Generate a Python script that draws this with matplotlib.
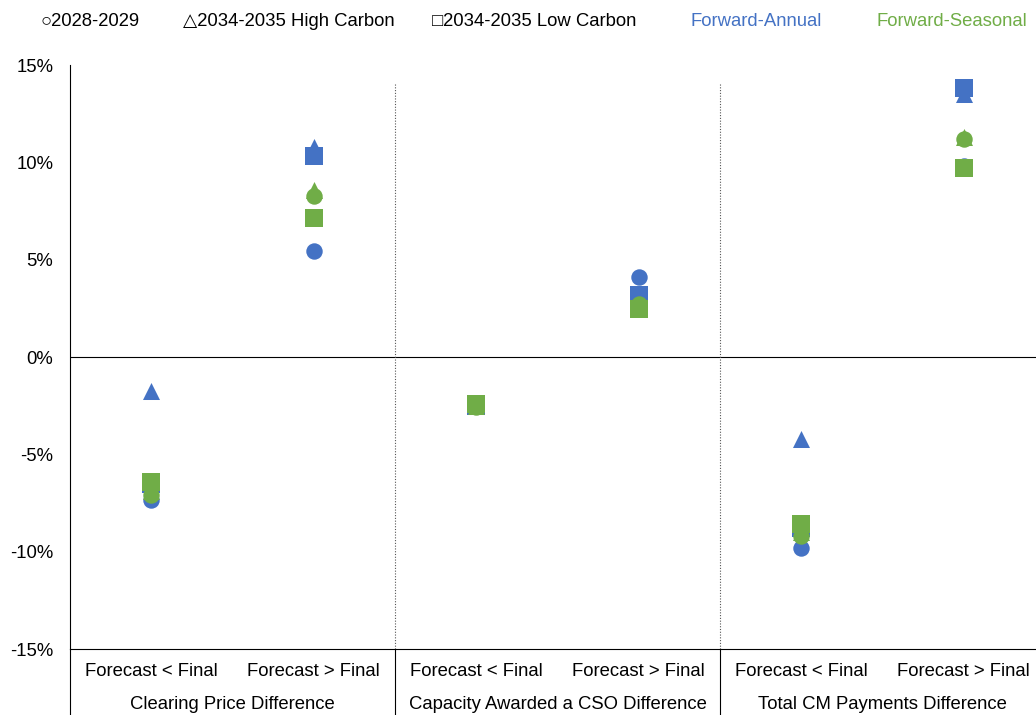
import matplotlib.pyplot as plt

plt.rcParams['font.family'] = ['Liberation Sans', 'DejaVu Sans']

groups = ['Clearing Price Difference', 'Capacity Awarded a CSO Difference', 'Total CM Payments Difference']
cases = ['Forecast < Final', 'Forecast > Final']

# values in %, one per category (6 categories: 3 groups x 2 cases)
annual_2028 = [-7.35, 5.45, -2.5, 4.1, -9.8, 9.8]
annual_high = [-1.75, 10.8, -2.5, 2.7, -4.2, 13.5]
annual_low = [-6.5, 10.3, -2.5, 3.2, -8.8, 13.8]
seasonal_2028 = [-7.1, 8.25, -2.55, 2.7, -9.2, 11.2]
seasonal_high = [-6.9, 8.6, -2.5, 2.6, -9.0, 11.3]
seasonal_low = [-6.4, 7.15, -2.4, 2.45, -8.6, 9.7]

blue = '#4472C4'
green = '#70AD47'
fs = 13.3

fig = plt.figure(figsize=(10.36, 7.15), dpi=100)
ax = fig.add_axes([70/1036, 1-649/715, 975/1036, (649-65)/715])

x = list(range(6))
for col, vals in [(blue, [annual_2028, annual_high, annual_low]),
                  (green, [seasonal_2028, seasonal_high, seasonal_low])]:
    ax.scatter(x, vals[0], marker='o', s=140, color=col, zorder=3, linewidths=0)
    ax.scatter(x, vals[1], marker='^', s=150, color=col, zorder=3, linewidths=0)
    ax.scatter(x, vals[2], marker='s', s=150, color=col, zorder=3, linewidths=0)

ax.set_xlim(-0.5, 5.5)
ax.set_ylim(-15, 15)
ax.set_yticks([-15, -10, -5, 0, 5, 10, 15])
ax.set_yticklabels(['-15%', '-10%', '-5%', '0%', '5%', '10%', '15%'], fontsize=fs)
ax.tick_params(axis='y', length=0, pad=12)
ax.set_xticks([])
ax.axhline(0, color='black', lw=0.8, zorder=1)
ax.vlines([1.5, 3.5], -15, 14, colors='#555555', linestyles=(0, (1, 1.5)), lw=0.8)

for s in ['top', 'right']:
    ax.spines[s].set_visible(False)
ax.spines['left'].set_linewidth(0.8)
ax.spines['bottom'].set_linewidth(0.8)

# multi-level category axis
tr = ax.get_xaxis_transform()
for i in x:
    ax.text(i, -0.038, cases[i % 2], transform=tr, ha='center', va='center', fontsize=fs)
for g in range(3):
    ax.text(2*g + 0.5, -0.095, groups[g], transform=tr, ha='center', va='center', fontsize=fs)
for sep in [-0.5, 1.5, 3.5]:
    ax.plot([sep, sep], [0, -0.12], transform=tr, color='black', lw=0.8, clip_on=False)

# legend
ly = 1 - 21/715
fig.text(40/1036, ly, '○2028-2029', fontsize=fs, va='center')
fig.text(183/1036, ly, '△2034-2035 High Carbon', fontsize=fs, va='center')
fig.text(432/1036, ly, '□2034-2035 Low Carbon', fontsize=fs, va='center')
fig.text(690/1036, ly, 'Forward-Annual', fontsize=fs, va='center', color=blue)
fig.text(877/1036, ly, 'Forward-Seasonal', fontsize=fs, va='center', color=green)

fig.savefig('out.png', dpi=100)
